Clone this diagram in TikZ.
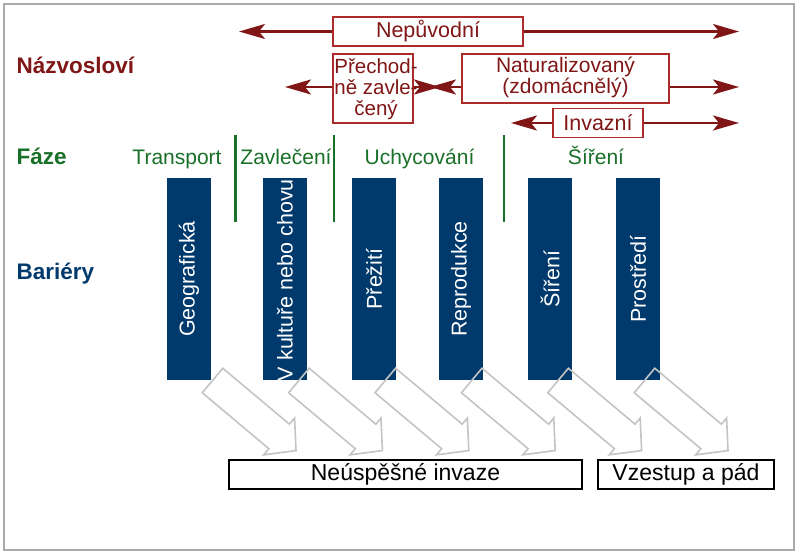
\documentclass[tikz,border=0pt]{standalone}
\usepackage{fontspec}
\setmainfont{Liberation Sans}
\usetikzlibrary{arrows.meta}
\definecolor{dred}{RGB}{128,22,22}
\definecolor{bred}{RGB}{172,42,42}
\definecolor{dgreen}{RGB}{25,112,40}
\definecolor{dblue}{RGB}{0,57,107}
\definecolor{agray}{RGB}{196,196,196}
\definecolor{fgray}{RGB}{170,170,170}
\newcommand{\fsz}[1]{\fontsize{#1}{#1}\selectfont}
\begin{document}
\begin{tikzpicture}[x=1pt,y=-1pt,
  redbox/.style={draw=bred, line width=1.4pt, fill=white, inner sep=0pt, text=dred, font=\fsz{21.5}},
  redtext/.style={inner sep=0pt, text=dred, align=center, font=\fontsize{20.5}{21}\selectfont},
  redarrow/.style={draw=dred, line width=2.1pt, -{Stealth[length=26pt,width=15pt,inset=6pt]}},
  bar/.style={fill=dblue, draw=none, minimum width=44pt, minimum height=202pt, inner sep=0pt},
  bartext/.style={rotate=90, text=white, inner sep=0pt, font=\fsz{21.5}},
  phase/.style={anchor=base, inner sep=0pt, text=dgreen, font=\fsz{21}},
  gline/.style={draw=dgreen, line width=2.2pt},
  rowlabel/.style={anchor=base west, inner sep=0pt, font=\fsz{22.5}\bfseries},
  blackbox/.style={draw=black, line width=1.6pt, inner sep=0pt, minimum height=29pt, font=\fsz{23}},
  hollow/.style={draw=agray, line width=1.6pt, line join=miter}
]
\useasboundingbox (0,0) rectangle (800,554);
\fill[white] (0,0) rectangle (800,554);
\draw[fgray, line width=2pt] (3.5,4) rectangle (794,549.5);

% row labels
\node[rowlabel, text=dred] (lnaz) at (16.5,73) {Názvosloví};
\node[rowlabel, text=dgreen] (lfaz) at (16.5,164) {Fáze};
\node[rowlabel, text=dblue] (lbar) at (16.5,279) {Bariéry};

% nomenclature boxes
\node[redbox, minimum width=190pt, minimum height=29pt] (nep) at (428,31.5) {Nepůvodní};
\node[redbox, minimum width=80pt, minimum height=69pt] (pre) at (373,88.5) {};
\node[redtext] (pretxt) at (376,89) {Přechod-\\ně zavle-\\čený};
\node[redbox, minimum width=207pt, minimum height=49pt] (nat) at (565.5,78.5) {};
\node[redtext, font=\fontsize{21}{21}\selectfont] (nattxt) at (565.5,77.5) {Naturalizovaný\\(zdomácnělý)};
\node[redbox, minimum width=90pt, minimum height=29pt] (inv) at (598,123) {Invazní};

\coordinate (nepL) at (239,31.5);
\coordinate (nepR) at (739,31.5);
\coordinate (r2L) at (285,87);
\coordinate (r2R) at (739,87);
\coordinate (mA) at (440,87);
\coordinate (mB) at (430,87);
\coordinate (invL) at (511,123);
\coordinate (invR) at (739,123);

\draw[redarrow] (nep.west) -- (nepL);
\draw[redarrow] (nep.east) -- (nepR);
\draw[redarrow] (pre.west |- r2L) -- (r2L);
\draw[redarrow] (pre.east |- r2L) -- (mA);
\draw[redarrow] (nat.west |- r2L) -- (mB);
\draw[redarrow] (nat.east |- r2R) -- (r2R);
\draw[redarrow] (inv.west) -- (invL);
\draw[redarrow] (inv.east) -- (invR);

% phases
\node[phase] (ph1) at (177,164) {Transport};
\node[phase] (ph2) at (286,164) {Zavlečení};
\node[phase] (ph3) at (419.5,164) {Uchycování};
\node[phase] (ph4) at (596,164) {Šíření};
\draw[gline] (235.5,135) -- (235.5,222);
\draw[gline] (334,135) -- (334,222);
\draw[gline] (504,135) -- (504,222);

% barriers
\node[bar] (b1) at (189,279) {};
\node[bar] (b2) at (285,279) {};
\node[bar] (b3) at (374,279) {};
\node[bar] (b4) at (461,279) {};
\node[bar] (b5) at (550,279) {};
\node[bar] (b6) at (638,279) {};
\node[bartext] (t1) at (b1) {Geografická};
\node[bartext] (t2) at ([yshift=-1pt]b2) {V kultuře nebo chovu};
\node[bartext] (t3) at (b3) {Přežití};
\node[bartext] (t4) at (b4) {Reprodukce};
\node[bartext] (t5) at (b5) {Šíření};
\node[bartext] (t6) at (b6) {Prostředí};

% hollow arrows
\foreach \i in {0,...,5} {
  \draw[hollow, shift={(212.5+86.4*\i,380.5)}, rotate=-40]
    (0,-16) -- (87,-16) -- (87,-24) -- (109,0) -- (87,24) -- (87,16) -- (0,16) -- cycle;
}

% outcome boxes
\node[blackbox, minimum width=353pt] (fail) at (405.5,474.5) {Neúspěšné invaze};
\node[blackbox, minimum width=176pt] (rise) at (686,474.5) {Vzestup a pád};
\end{tikzpicture}
\end{document}
